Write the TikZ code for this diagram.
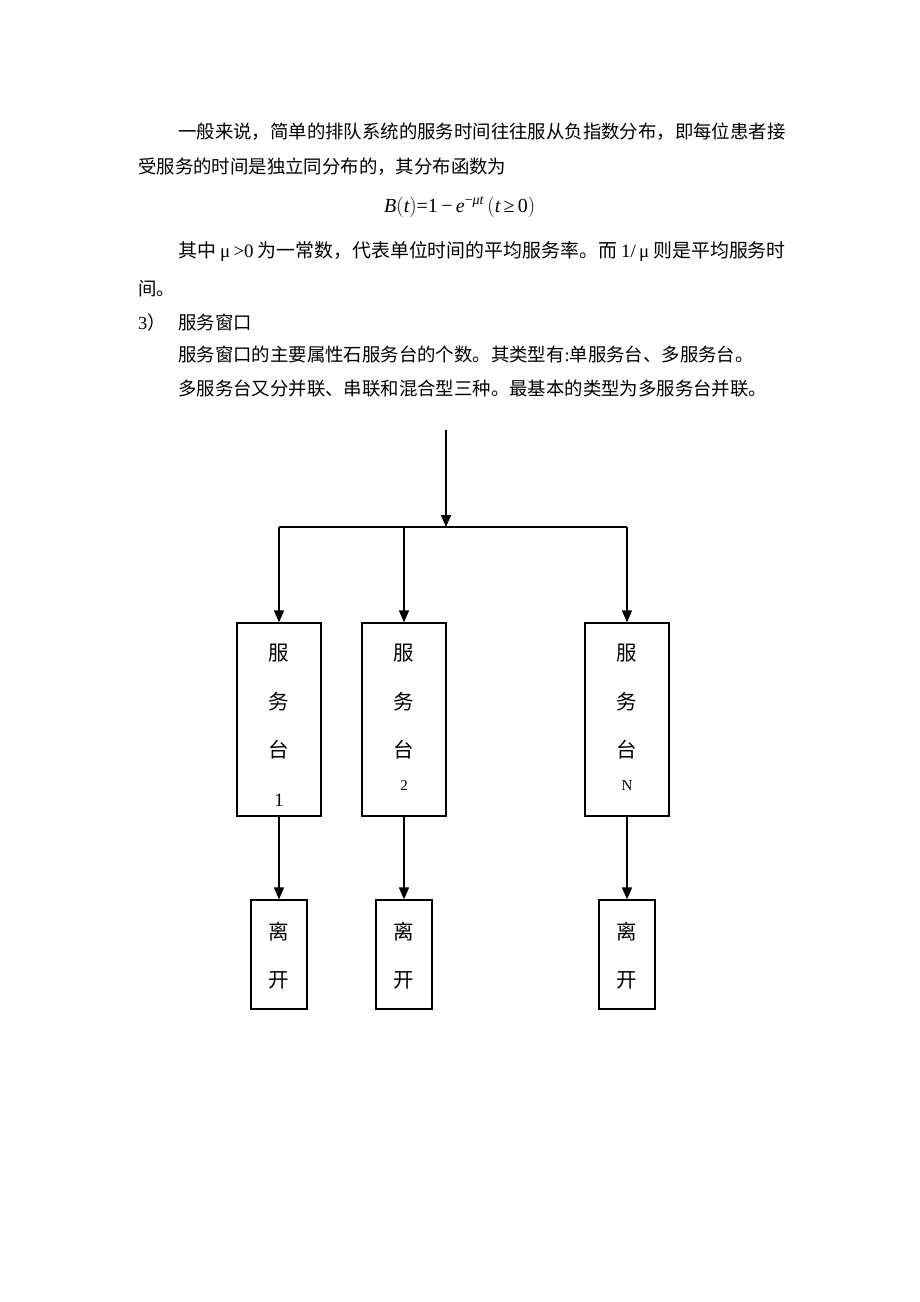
\documentclass[tikz,border=0pt]{standalone}
\usepackage{fontspec}
\setmainfont{Liberation Serif}
\newfontfamily\cjk{Noto Sans CJK SC}
\usetikzlibrary{arrows.meta}
\tikzset{
  srvbox/.style={draw, line width=1.3pt, minimum width=84pt, minimum height=193pt, inner sep=0pt},
  leavebox/.style={draw, line width=1.3pt, minimum width=56pt, minimum height=109pt, inner sep=0pt},
  flow/.style={line width=1.6pt, -{Triangle[length=12pt,width=10pt]}},
  trunk/.style={line width=1.6pt},
  body/.style={font=\cjk\fontsize{18.4}{22}\selectfont, inner sep=0pt, anchor=base west},
  lbl/.style={font=\cjk\fontsize{20.5}{25}\selectfont, inner sep=0pt},
  num/.style={font=\rmfamily\fontsize{19}{23}\selectfont, inner sep=0pt},
  smallnum/.style={font=\rmfamily\fontsize{15}{18}\selectfont, inner sep=0pt},
}
\begin{document}
\begin{tikzpicture}[x=1pt,y=-1pt]
\useasboundingbox (0,0) rectangle (920,1302);
% text
\node[body] (l1) at (178,138) {一般来说，简单的排队系统的服务时间往往服从负指数分布，即每位患者接};
\node[body] (l2) at (138,173) {受服务的时间是独立同分布的，其分布函数为};
\node[font=\rmfamily\fontsize{20}{24}\selectfont, inner sep=0pt, anchor=west] (fm) at (384,207)
  {\itshape B\upshape\Big(\itshape t\upshape\Big)=1\,−\,\itshape e\upshape\textsuperscript{−\itshape μt}\,\Big(\itshape t\upshape\,≥\,0\Big)};
\node[body, font=\cjk\fontsize{18.9}{23}\selectfont] (l4) at (178,257) {其中 {\rmfamily μ\,>0} 为一常数，代表单位时间的平均服务率。而 {\rmfamily 1/\,μ} 则是平均服务时};
\node[body] (l5) at (138,295) {间。};
\node[body] (l6a) at (138,329) {{\rmfamily 3}）};
\node[body] (l6b) at (178,329) {服务窗口};
\node[body] (l7) at (178,361) {服务窗口的主要属性石服务台的个数。其类型有{\rmfamily :}单服务台、多服务台。};
\node[body] (l8) at (178,395) {多服务台又分并联、串联和混合型三种。最基本的类型为多服务台并联。};
% boxes
\node[srvbox] (s1) at (279,719.5) {};
\node[srvbox] (s2) at (404,719.5) {};
\node[srvbox] (sN) at (627,719.5) {};
\node[leavebox] (o1) at (279,954.5) {};
\node[leavebox] (o2) at (404,954.5) {};
\node[leavebox] (oN) at (627,954.5) {};
% box labels
\foreach \nm/\xx in {1/279, 2/404, N/627} {
  \node[lbl] (a\nm) at (\xx,653) {服};
  \node[lbl] (b\nm) at (\xx,702) {务};
  \node[lbl] (c\nm) at (\xx,750) {台};
  \node[lbl] (e\nm) at (\xx,932) {离};
  \node[lbl] (f\nm) at (\xx,980) {开};
}
\node[num] (d1) at (279,800) {1};
\node[smallnum] (d2) at (404,786) {2};
\node[smallnum] (dN) at (627,786) {N};
% connectors
\coordinate (top) at (446,430);
\coordinate (junc) at (446,527);
\coordinate (j1) at (279,527);
\coordinate (j2) at (404,527);
\coordinate (jN) at (627,527);
\draw[flow] (top) -- (junc);
\draw[trunk] (j1) -- (jN);
\draw[flow] (j1) -- (s1.north);
\draw[flow] (j2) -- (s2.north);
\draw[flow] (jN) -- (sN.north);
\draw[flow] (s1.south) -- (o1.north);
\draw[flow] (s2.south) -- (o2.north);
\draw[flow] (sN.south) -- (oN.north);
\end{tikzpicture}
\end{document}
